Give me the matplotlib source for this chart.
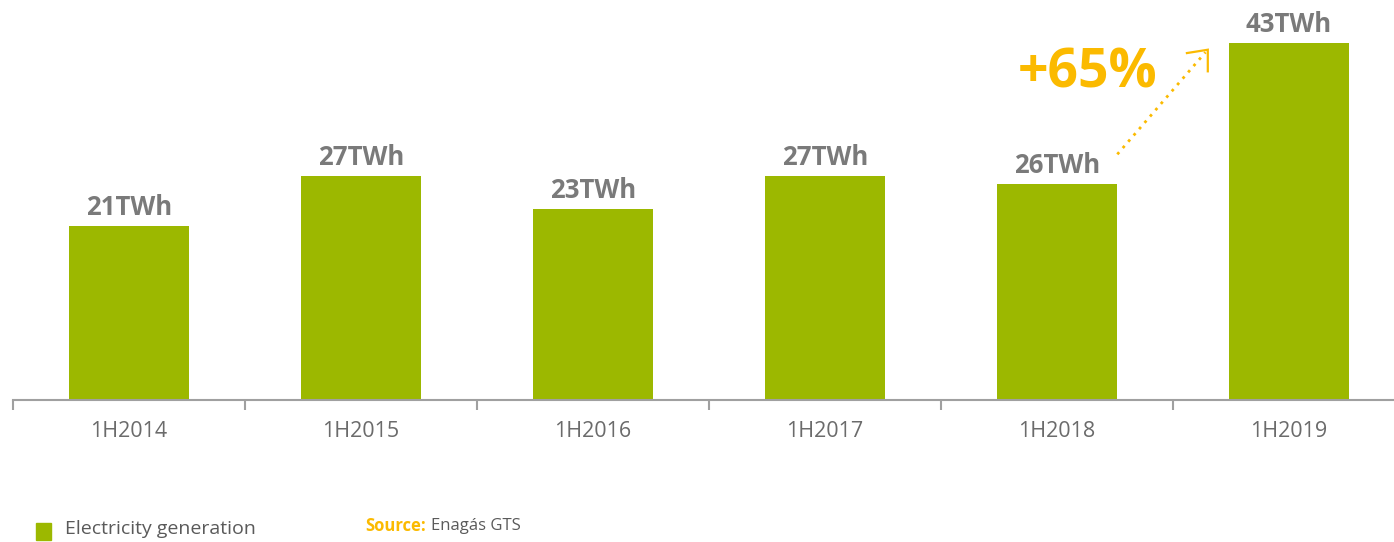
import matplotlib.pyplot as plt
import numpy as np

periods = ['1H2014', '1H2015', '1H2016', '1H2017', '1H2018', '1H2019']
generation = [21, 27, 23, 27, 26, 43]
value_labels = ['21TWh', '27TWh', '23TWh', '27TWh', '26TWh', '43TWh']
growth_label = '+65%'

green = '#9CB800'
orange = '#FBBA00'
grey = '#7a7a7a'

plt.rcParams['font.family'] = ['Open Sans', 'DejaVu Sans']

fig = plt.figure(figsize=(13.94, 5.42), dpi=100)
ax = fig.add_axes([13 / 1394, 142 / 542, 1392 / 1394, 48 * 8.3 / 542])

x = np.arange(len(periods))
ax.bar(x, generation, width=0.515, color=green)
for xi, v, lab in zip(x, generation, value_labels):
    ax.text(xi, v + 0.6, lab, ha='center', va='bottom', fontsize=18.5,
            fontweight='bold', color=grey)

ax.set_xlim(-0.5, 5.5)
ax.set_ylim(0, 48)
ax.set_yticks([])
for s in ['left', 'right', 'top']:
    ax.spines[s].set_visible(False)
ax.spines['bottom'].set_color('#a0a0a0')
ax.spines['bottom'].set_linewidth(1.5)

ax.set_xticks(np.arange(-0.5, 6.0, 1.0), minor=False)
ax.set_xticklabels([])
ax.tick_params(axis='x', which='major', length=7, width=1.5, color='#a0a0a0', direction='out')
ax.set_xticks(x, minor=True)
ax.set_xticklabels(periods, minor=True, fontsize=15.5, color='#6b6b6b')
ax.tick_params(axis='x', which='minor', length=0, pad=15)

# growth arrow: dotted shaft from 1H2018 label to 1H2019 bar, open corner head
tip = (4.65, 42.2)
ax.plot([4.26, tip[0] - 0.01], [29.6, tip[1] - 0.3], linestyle=(0, (1, 2)),
        color=orange, lw=2)
ax.plot([4.56, tip[0], tip[0]], [41.8, tip[1], 39.6], color=orange, lw=1.6,
        solid_joinstyle='miter')
ax.text(3.83, 39.3, growth_label, fontsize=38.5, fontweight='bold', color=orange,
        ha='left', va='center')

# legend and source
fig.patches.append(plt.Rectangle((36 / 1394, 2 / 542), 15 / 1394, 17 / 542,
                                 transform=fig.transFigure, color=green))
fig.text(65 / 1394, 13 / 542, 'Electricity generation', fontsize=14,
         color='#5a5a5a', va='center')
fig.text(365 / 1394, 16 / 542, 'Source:', fontsize=12, fontweight='bold',
         color=orange, va='center')
fig.text(431 / 1394, 16 / 542, 'Enagás GTS', fontsize=12,
         color='#5a5a5a', va='center')

fig.savefig('out.png', dpi=100)
